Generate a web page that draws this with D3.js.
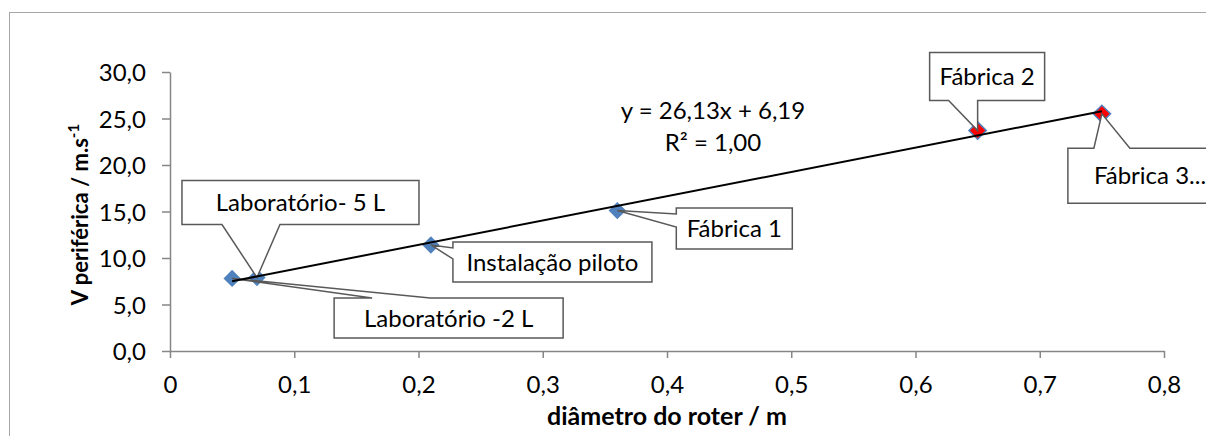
<!DOCTYPE html>
<html>
<head>
<meta charset="utf-8">
<script src="https://cdn.jsdelivr.net/npm/d3@7"></script>
<style>
  html, body { margin: 0; padding: 0; background: #fff; }
  svg { display: block; font-family: Lato, "Open Sans", sans-serif; }
</style>
</head>
<body>
<svg id="chart" width="1206" height="436"></svg>
<script>
// ---- data ----
const pointLabels = ["Laboratório -2 L", "Laboratório- 5 L", "Instalação piloto", "Fábrica 1", "Fábrica 2", "Fábrica 3..."];
const diameters = [0.05, 0.07, 0.21, 0.36, 0.65, 0.75];
const speeds = [7.8, 7.9, 11.4, 15.1, 23.7, 25.5];
const industrial = [false, false, false, false, true, true];
const xTicks = [0, 0.1, 0.2, 0.3, 0.4, 0.5, 0.6, 0.7, 0.8];
const yTicks = [0, 5, 10, 15, 20, 25, 30];
const trendSlope = 26.13;
const trendIntercept = 6.19;
const trendRange = [0.05, 0.75];
const xTitle = "diâmetro do roter / m";
const equationLines = ["y = 26,13x + 6,19", "R² = 1,00"];

// ---- layout / style (not data) ----
const svg = d3.select("#chart");
const x = d3.scaleLinear().domain([0, 0.8]).range([170, 1164]);
const y = d3.scaleLinear().domain([0, 30]).range([351, 72]);
const axisColor = "#868686";
const fontSize = 24;

// outer chart border (extends beyond view to right/bottom)
svg.append("rect").attr("x", 9.5).attr("y", 12.5).attr("width", 1400).attr("height", 600)
  .attr("fill", "#fff").attr("stroke", "#a6a6a6").attr("stroke-width", 1);

// Y axis
const yAxis = svg.append("g").attr("transform", `translate(${x(0)},0)`)
  .call(d3.axisLeft(y).tickValues(yTicks).tickSize(8).tickSizeOuter(0)
    .tickFormat(d => d.toFixed(1).replace(".", ",")));
yAxis.select(".domain").attr("stroke", axisColor).attr("stroke-width", 1.5);
yAxis.selectAll(".tick line").attr("stroke", axisColor).attr("stroke-width", 1.5);
yAxis.selectAll(".tick text").attr("x", -24).attr("dy", "0.36em")
  .attr("font-size", fontSize).attr("font-family", "Lato, sans-serif").attr("fill", "#000");

// X axis
const xAxis = svg.append("g").attr("transform", `translate(0,${y(0)})`)
  .call(d3.axisBottom(x).tickValues(xTicks).tickSize(7).tickSizeOuter(0)
    .tickFormat(d => d === 0 ? "0" : String(d).replace(".", ",")));
xAxis.select(".domain").attr("stroke", axisColor).attr("stroke-width", 1.5);
xAxis.selectAll(".tick line").attr("stroke", axisColor).attr("stroke-width", 1.5);
xAxis.selectAll(".tick text").attr("y", 42).attr("dy", 0)
  .attr("font-size", fontSize).attr("font-family", "Lato, sans-serif").attr("fill", "#000");

// Axis titles
svg.append("text")
  .attr("x", (x.range()[0] + x.range()[1]) / 2).attr("y", 425)
  .attr("text-anchor", "middle").attr("font-weight", "bold").attr("font-size", 25)
  .text(xTitle);

const yTitle = svg.append("text")
  .attr("transform", `translate(88,${(y.range()[0] + y.range()[1]) / 2 + 3}) rotate(-90)`)
  .attr("text-anchor", "middle").attr("font-weight", "bold").attr("font-size", 22);
yTitle.append("tspan").text("V periférica / m.s");
yTitle.append("tspan").attr("dy", -9).attr("font-size", 15).text("-1");

// Data point records
const pts = diameters.map((d, i) => ({ label: pointLabels[i], dx: d, v: speeds[i], ind: industrial[i] }));

// Callout placement (pixel offsets from anchor point; layout only)
const callouts = [
  { box: [102, 19.5, 229, 40], side: "top",    wedge: [38, 96] },
  { box: [-75, -97, 237, 44],  side: "bottom", wedge: [40, 98] },
  { box: [22, -3, 199, 40],    side: "left",   wedge: [6, 17] },
  { box: [59, -2.6, 116, 41],  side: "left",   wedge: [6, 19] },
  { box: [-48, -78, 115, 48],  side: "bottom", wedge: [19, 48] },
  { box: [-34, 34.3, 180, 55], side: "top",    wedge: [26, 62], textLeft: 26 }
];

function calloutPath(x0, y0, w, h, side, a, b, ax, ay) {
  const x1 = x0 + w, y1 = y0 + h;
  const p = [[x0, y0]];
  if (side === "top") p.push([x0 + a, y0], [ax, ay], [x0 + b, y0]);
  p.push([x1, y0], [x1, y1]);
  if (side === "bottom") p.push([x0 + b, y1], [ax, ay], [x0 + a, y1]);
  p.push([x0, y1]);
  if (side === "left") p.push([x0, y0 + b], [ax, ay], [x0, y0 + a]);
  return "M" + p.map(q => q.join(",")).join("L") + "Z";
}

// Trend line (from fitted equation)
const trendLine = d3.line().x(d => x(d)).y(d => y(trendSlope * d + trendIntercept));

// Markers (diamonds = rotated squares)
svg.append("g").selectAll("path").data(pts).join("path")
  .attr("d", d3.symbol().type(d3.symbolSquare).size(150))
  .attr("transform", d => `translate(${x(d.dx)},${y(d.v)}) rotate(45)`)
  .attr("fill", d => d.ind ? "#ff0000" : "#4f81bd")
  .attr("stroke", "#4f81bd").attr("stroke-width", d => d.ind ? 1.5 : 0);

// Callouts (drawn above markers)
const cg = svg.append("g");
pts.forEach((d, i) => {
  const ax = x(d.dx), ay = y(d.v);
  const c = callouts[i];
  const x0 = ax + c.box[0], y0 = ay + c.box[1], w = c.box[2], h = c.box[3];
  cg.append("path")
    .attr("d", calloutPath(x0, y0, w, h, c.side, c.wedge[0], c.wedge[1], ax, ay))
    .attr("fill", "#fff").attr("stroke", "#595959").attr("stroke-width", 1.5)
    .attr("stroke-linejoin", "miter");
  const t = cg.append("text")
    .attr("y", y0 + h / 2).attr("dy", "0.36em").attr("font-size", fontSize).attr("fill", "#000")
    .text(d.label);
  if (c.textLeft != null) t.attr("x", x0 + c.textLeft).attr("text-anchor", "start");
  else t.attr("x", x0 + w / 2).attr("text-anchor", "middle");
});

// Trend line on top
svg.append("path").datum(trendRange).attr("d", trendLine)
  .attr("fill", "none").attr("stroke", "#000").attr("stroke-width", 2);

// Equation text
const eqX = x(0.437);
svg.append("text").attr("x", eqX).attr("y", 119).attr("text-anchor", "middle")
  .attr("font-size", fontSize).text(equationLines[0]);
svg.append("text").attr("x", eqX).attr("y", 151).attr("text-anchor", "middle")
  .attr("font-size", fontSize).text(equationLines[1]);
</script>
</body>
</html>
